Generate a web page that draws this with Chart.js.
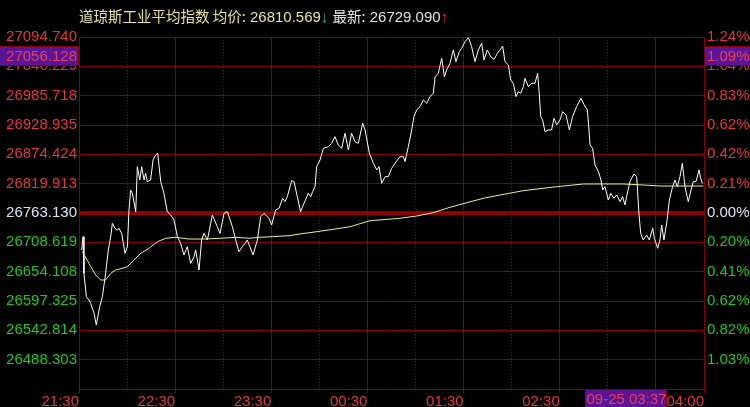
<!DOCTYPE html>
<html lang="zh">
<head>
<meta charset="UTF-8">
<title>道琼斯工业平均指数</title>
<script src="https://cdn.jsdelivr.net/npm/chart.js"></script>
<style>
    body {
        margin: 0;
        background: #000;
        overflow: hidden;
    }
    .wrap {
        position: relative;
        width: 750px;
        height: 407px;
    }
    canvas { display: block; }
    /* multi-colour header line */
    #title {
        position: absolute;
        left: 79px;
        top: 7px;
        font: 15px 'Liberation Sans', 'Noto Sans CJK SC', sans-serif;
        line-height: 18px;
        white-space: nowrap;
    }
    #title .cjk { font-family: 'Noto Sans CJK SC', sans-serif; font-size: 14.5px; }
</style>
</head>
<body>
<div class="wrap">
    <canvas id="chart" width="750" height="407"></canvas>
    <div id="title"><span class="cjk" style="color:#e6e496">道琼斯工业平均指数 均价:</span><span style="color:#e6e496"> 26810.569</span><span style="color:#2cb8a8">↓</span> <span class="cjk" style="color:#e4e4e4">最新:</span><span style="color:#e4e4e4"> 26729.090</span><span style="color:#e02020">↑</span></div>
</div>

<script>
    // previous close and axis step
    const prevClose = 26763.130;
    const priceStep = 55.268;

    // axis labels, top to bottom
    const leftLabels = ['27094.740', '27040.229', '26985.718', '26928.935', '26874.424', '26819.913',
        '26763.130', '26708.619', '26654.108', '26597.325', '26542.814', '26488.303', ''];
    const rightLabels = ['1.24%', '1.04%', '0.83%', '0.62%', '0.42%', '0.21%',
        '0.00%', '0.20%', '0.41%', '0.62%', '0.82%', '1.03%', ''];

    // time axis: minutes since 21:30
    const hourTicks = [0, 60, 120, 180, 240, 300, 360, 390];
    const hourLabels = ['21:30', '22:30', '23:30', '00:30', '01:30', '02:30', '03:30', '04:00'];
    const halfHourTicks = [30, 90, 150, 210, 270, 330];

    // price line (minute, price)
    const priceMinutes = [1.7, 2.5, 3.1, 4.6, 6.2, 7.3, 9.4, 10.8, 12.9, 14.6, 16.6, 18.3, 19.8, 20.8, 22.5, 23.9,
        25.0, 26.6, 27.7, 28.7, 30.2, 31.2, 32.2, 33.3, 35.4, 36.4, 37.9, 39.1, 40.6, 41.6, 42.6, 44.7,
        46.2, 47.8, 49.1, 51.0, 53.0, 55.1, 57.2, 59.3, 61.4, 63.4, 65.5, 67.6, 69.7, 71.8, 72.8, 74.9,
        76.5, 78.0, 80.1, 83.2, 86.3, 88.0, 90.5, 92.6, 95.7, 97.8, 99.8, 101.9, 103.6, 105.0, 108.6, 111.3,
        113.4, 115.4, 118.6, 120.2, 122.7, 124.8, 127.1, 128.5, 130.0, 132.7, 134.2, 136.2, 138.3, 140.4,
        143.1, 144.6, 145.8, 147.3, 148.3, 150.4, 152.5, 155.6, 157.7, 159.7, 161.8, 163.9, 166.0, 168.1,
        170.1, 172.2, 174.3, 177.0, 178.5, 181.2, 183.7, 185.8, 187.2, 188.9, 191.0, 193.0, 195.1, 197.2,
        200.3, 202.4, 203.4, 205.5, 207.6, 209.0, 210.7, 212.8, 214.9, 217.0, 219.0, 221.1, 222.2, 224.2,
        226.3, 228.0, 229.4, 231.5, 233.6, 235.2, 237.3, 238.8, 240.9, 243.0, 245.0, 247.1, 249.2, 251.3,
        252.7, 254.8, 256.9, 259.0, 261.1, 262.7, 264.4, 265.8, 267.9, 269.4, 271.0, 272.7, 274.1, 275.6,
        277.3, 278.3, 280.4, 282.5, 284.5, 286.2, 287.2, 288.1, 289.3, 290.8, 292.9, 294.9, 296.4, 298.1,
        300.1, 301.8, 303.9, 306.0, 308.0, 310.5, 313.2, 315.3, 317.2, 318.0, 318.9, 320.5, 322.0, 324.1,
        325.7, 326.8, 328.2, 330.3, 331.8, 333.8, 335.5, 337.6, 339.2, 340.7, 341.7, 343.8, 346.3, 348.0,
        349.4, 350.5, 352.1, 354.2, 355.9, 358.0, 359.0, 361.1, 362.5, 363.6, 365.0, 366.7, 368.4, 370.4,
        371.9, 373.4, 375.0, 376.5, 378.1, 380.2, 381.9, 383.3, 385.0, 386.9, 387.9, 389.0];
    const priceValues = [26693.4, 26718.5, 26649.4, 26605.5, 26599.2, 26592.9, 26574.1, 26552.1, 26586.6, 26605.5,
        26649.4, 26693.4, 26718.5, 26743.7, 26734.2, 26731.1, 26734.2, 26724.8, 26706.0, 26687.1, 26699.7,
        26768.8, 26806.5, 26800.2, 26765.6, 26850.4, 26825.3, 26850.4, 26825.3, 26837.9, 26822.2, 26825.3,
        26863.0, 26872.4, 26875.6, 26822.2, 26800.2, 26765.6, 26759.4, 26749.9, 26718.5, 26706.0, 26684.0,
        26699.7, 26668.3, 26680.9, 26693.4, 26655.7, 26712.3, 26724.8, 26712.3, 26759.4, 26737.4, 26724.8,
        26762.5, 26765.6, 26737.4, 26712.3, 26690.3, 26699.7, 26706.0, 26712.3, 26684.0, 26712.3, 26756.2,
        26762.5, 26753.1, 26740.5, 26768.8, 26771.9, 26790.8, 26784.5, 26793.9, 26824.1, 26822.2, 26793.9,
        26765.6, 26781.4, 26800.2, 26793.9, 26803.3, 26812.8, 26850.5, 26863.0, 26885.0, 26888.1, 26894.4,
        26907.0, 26891.3, 26885.0, 26913.3, 26881.9, 26913.3, 26897.6, 26894.4, 26932.1, 26919.6, 26875.6,
        26856.8, 26844.2, 26850.5, 26819.0, 26831.6, 26831.6, 26847.3, 26856.8, 26869.3, 26869.3, 26859.9,
        26888.1, 26919.6, 26944.7, 26957.2, 26963.5, 26976.1, 26969.8, 26982.4, 26988.6, 27020.0, 27026.3,
        27054.6, 27020.0, 27032.6, 27045.2, 27070.3, 27048.3, 27067.2, 27073.4, 27086.0, 27093.5, 27076.6,
        27048.3, 27070.3, 27082.9, 27051.5, 27070.3, 27057.7, 27052.7, 27064.0, 27070.3, 27077.8, 27048.3,
        27042.0, 27013.8, 27007.5, 26982.4, 26991.8, 26988.6, 27001.2, 27016.9, 27001.2, 27007.5, 27007.5,
        27026.3, 26988.6, 26944.7, 26938.4, 26916.4, 26919.6, 26919.6, 26941.5, 26929.0, 26938.4, 26954.1,
        26947.8, 26919.6, 26944.7, 26963.5, 26979.2, 26966.7, 26957.2, 26929.0, 26891.3, 26885.0, 26853.6,
        26841.0, 26825.3, 26806.5, 26812.8, 26787.6, 26800.2, 26790.8, 26797.1, 26784.5, 26793.9, 26778.2,
        26793.9, 26822.2, 26836.6, 26831.6, 26762.5, 26724.8, 26712.3, 26721.7, 26712.3, 26734.3, 26715.4,
        26696.6, 26712.3, 26740.5, 26712.3, 26743.7, 26787.6, 26812.8, 26825.3, 26812.8, 26831.6, 26856.7,
        26812.8, 26784.5, 26806.5, 26822.2, 26822.2, 26844.2, 26828.5, 26819.0];

    // average price line (minute, price)
    const avgMinutes = [2.1, 6.2, 10.4, 13.5, 16.6, 19.8, 22.9, 27.0, 30.2, 34.3, 38.5, 43.7, 48.9, 54.1, 60.3,
        68.6, 79.0, 87.4, 97.8, 106.7, 112.3, 120.6, 131.0, 137.9, 148.3, 158.7, 169.1, 181.6, 200.3, 210.7,
        221.1, 231.5, 241.9, 252.3, 262.7, 277.3, 298.1, 314.7, 339.6, 352.1, 362.5, 389.6];
    const avgValues = [26690.3, 26668.3, 26646.3, 26636.9, 26636.9, 26649.4, 26655.7, 26658.9, 26662.0, 26674.6,
        26687.1, 26696.6, 26709.1, 26715.4, 26717.3, 26714.1, 26714.1, 26715.4, 26717.3, 26715.5, 26717.3,
        26718.5, 26720.4, 26723.6, 26727.9, 26732.4, 26737.3, 26748.6, 26753.1, 26757.5, 26763.8, 26773.9,
        26782.5, 26790.8, 26797.0, 26805.2, 26812.7, 26817.8, 26817.8, 26815.9, 26814.0, 26814.0];

    // crosshair readout
    const cursorPrice = 27056.128;
    const cursorPriceText = '27056.128';
    const cursorPctText = '1.09%';
    const cursorMinute = 367;
    const cursorTimeText = '09-25 03:37';

    const RED = '#e2383a';
    const GREEN = '#1ec81e';
    const FLAT = '#d8e6f4';
    const GRID = '#880000';
    const FONT = { family: "'Liberation Sans', Arial, sans-serif", size: 15 };

    function priceTicks(scale) {
        const ticks = [];
        for (let i = -6; i <= 6; i++) ticks.push({ value: prevClose + i * priceStep });
        scale.ticks = ticks;
    }

    function labelColor(ctx) {
        const row = 12 - ctx.index;
        if (row < 6) return RED;
        if (row === 6) return FLAT;
        return GREEN;
    }

    // purple crosshair labels on the axes
    const cursorBoxes = {
        id: 'cursorBoxes',
        afterDraw(chart) {
            const { ctx, scales } = chart;
            const yc = Math.round(scales.y.getPixelForValue(cursorPrice));
            const xr = Math.round(scales.x.getPixelForValue(cursorMinute));
            const bottom = chart.chartArea.bottom;
            ctx.save();
            ctx.font = "15px 'Liberation Sans', Arial, sans-serif";
            ctx.textBaseline = 'middle';

            ctx.fillStyle = '#5a1496';
            ctx.fillRect(0, yc - 10, 78, 19);
            ctx.fillRect(705, yc - 10, 45, 19);
            ctx.fillRect(xr - 81, bottom + 1, 81, 18);

            ctx.strokeStyle = GRID;
            ctx.lineWidth = 1;
            ctx.strokeRect(-1, yc - 10.5, 79.5, 19);
            ctx.strokeRect(704.5, yc - 10.5, 50, 19);
            ctx.strokeRect(xr - 81.5, bottom + 0.5, 81, 20);

            ctx.fillStyle = '#e6405c';
            ctx.textAlign = 'right';
            ctx.fillText(cursorPriceText, 77, yc);
            ctx.textAlign = 'left';
            ctx.fillText(cursorPctText, 707, yc);
            ctx.textAlign = 'center';
            ctx.fillText(cursorTimeText, xr - 40.5, bottom + 11);
            ctx.restore();
        }
    };

    new Chart(document.getElementById('chart'), {
        type: 'line',
        data: {
            datasets: [
                {
                    data: priceMinutes.map((m, i) => ({ x: m, y: priceValues[i] })),
                    borderColor: '#ffffff',
                    borderWidth: 1,
                    pointRadius: 0,
                    tension: 0,
                    order: 1
                },
                {
                    data: avgMinutes.map((m, i) => ({ x: m, y: avgValues[i] })),
                    borderColor: '#f0ee8c',
                    borderWidth: 1,
                    pointRadius: 0,
                    tension: 0,
                    order: 0
                }
            ]
        },
        options: {
            responsive: false,
            animation: false,
            layout: { padding: { top: 37, left: 0, right: 0, bottom: 0 } },
            plugins: { legend: { display: false }, tooltip: { enabled: false } },
            scales: {
                // hourly solid lines with labels
                x: {
                    type: 'linear',
                    min: 0,
                    max: 390,
                    afterBuildTicks: s => { s.ticks = hourTicks.map(v => ({ value: v })); },
                    afterFit: s => { s.height = 18; },
                    grid: {
                        color: GRID,
                        lineWidth: 1,
                        drawTicks: true,
                        tickLength: 4,
                        tickColor: GRID
                    },
                    border: { display: false },
                    ticks: {
                        autoSkip: false,
                        maxRotation: 0,
                        align: 'end',
                        padding: 0,
                        color: RED,
                        font: FONT,
                        callback: (v, i) => hourLabels[i]
                    }
                },
                // half-hour dotted lines
                x2: {
                    type: 'linear',
                    position: 'bottom',
                    min: 0,
                    max: 390,
                    afterBuildTicks: s => { s.ticks = halfHourTicks.map(v => ({ value: v })); },
                    afterFit: s => { s.height = 0; },
                    grid: {
                        color: '#a00000',
                        lineWidth: 1,
                        drawTicks: false
                    },
                    border: { display: false, dash: [1, 2] },
                    ticks: { display: false }
                },
                y: {
                    position: 'left',
                    min: prevClose - 6 * priceStep,
                    max: prevClose + 6 * priceStep,
                    afterBuildTicks: priceTicks,
                    afterFit: s => { s.width = 79; },
                    grid: {
                        color: ctx => ctx.index === 6 ? '#8c0000' : GRID,
                        lineWidth: ctx => ctx.index === 6 ? 4 : 1,
                        drawTicks: false
                    },
                    border: { display: false },
                    ticks: {
                        padding: 2,
                        color: labelColor,
                        font: FONT,
                        callback: (v, i) => leftLabels[12 - i]
                    }
                },
                yRight: {
                    position: 'right',
                    min: prevClose - 6 * priceStep,
                    max: prevClose + 6 * priceStep,
                    afterBuildTicks: priceTicks,
                    afterFit: s => { s.width = 46; },
                    grid: { drawOnChartArea: false, drawTicks: false },
                    border: { display: false },
                    ticks: {
                        padding: 3,
                        color: labelColor,
                        font: FONT,
                        callback: (v, i) => rightLabels[12 - i]
                    }
                }
            }
        },
        plugins: [cursorBoxes]
    });
</script>
</body>
</html>
